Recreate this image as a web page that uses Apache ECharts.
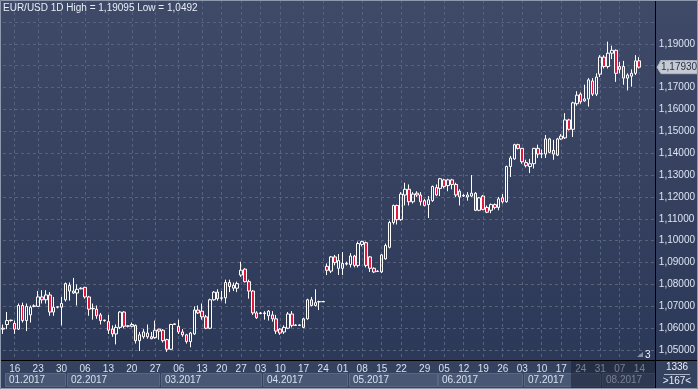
<!DOCTYPE html>
<html><head><meta charset="utf-8">
<script src="https://cdn.jsdelivr.net/npm/echarts@6/dist/echarts.min.js"></script>
<style>html,body{margin:0;padding:0;background:#33405d;}#c{width:698px;height:389px;}</style>
</head><body><div id="c"></div>
<script>
const titleText = 'EUR/USD 1D High = 1,19095 Low = 1,0492';
const open = [1.0596,1.0617,1.0635,1.0622,1.0596,1.0704,1.0635,1.0661,1.0700,1.0700,
1.0743,1.0730,1.0752,1.0674,1.0696,1.0696,1.0730,1.0796,1.0770,1.0761,
1.0780,1.0787,1.0743,1.0689,1.0687,1.0661,1.0635,1.0630,1.0596,1.0574,
1.0604,1.0674,1.0609,1.0609,1.0613,1.0543,1.0561,1.0561,1.0561,1.0557,
1.0596,1.0591,1.0548,1.0504,1.0617,1.0609,1.0583,1.0570,1.0539,1.0574,
1.0683,1.0678,1.0652,1.0600,1.0730,1.0765,1.0737,1.0739,1.0809,1.0783,
1.0783,1.0843,1.0870,1.0813,1.0770,1.0670,1.0667,1.0670,1.0657,1.0661,
1.0643,1.0596,1.0583,1.0600,1.0665,1.0613,1.0615,1.0604,1.0643,1.0730,
1.0704,1.0720,1.0722,1.0883,1.0861,1.0926,1.0874,1.0874,1.0893,1.0891,
1.0930,1.0887,1.0983,1.0991,1.0926,1.0874,1.0859,1.0857,1.0917,1.0970,
1.1083,1.1161,1.1096,1.1209,1.1235,1.1178,1.1217,1.1209,1.1183,1.1165,
1.1183,1.1243,1.1239,1.1278,1.1252,1.1278,1.1257,1.1226,1.1204,1.1200,
1.1204,1.1217,1.1139,1.1204,1.1152,1.1139,1.1165,1.1152,1.1196,1.1178,
1.1339,1.1374,1.1439,1.1422,1.1357,1.1339,1.1352,1.1422,1.1396,1.1396,
1.1465,1.1413,1.1391,1.1465,1.1470,1.1552,1.1509,1.1626,1.1670,1.1639,
1.1648,1.1730,1.1670,1.1761,1.1839,1.1796,1.1857,1.1870,1.1783,1.1796,
1.1743,1.1752,1.1765,1.1822];
const high = [1.0617,1.0674,1.0639,1.0635,1.0713,1.0717,1.0713,1.0704,1.0709,1.0770,
1.0774,1.0774,1.0765,1.0743,1.0700,1.0743,1.0809,1.0809,1.0830,1.0800,
1.0787,1.0789,1.0748,1.0713,1.0704,1.0670,1.0639,1.0661,1.0613,1.0617,
1.0678,1.0678,1.0613,1.0626,1.0617,1.0583,1.0596,1.0617,1.0583,1.0635,
1.0598,1.0596,1.0552,1.0620,1.0622,1.0639,1.0596,1.0574,1.0583,1.0700,
1.0704,1.0713,1.0661,1.0735,1.0770,1.0778,1.0770,1.0822,1.0822,1.0809,
1.0813,1.0904,1.0874,1.0822,1.0774,1.0678,1.0674,1.0678,1.0683,1.0678,
1.0661,1.0600,1.0613,1.0674,1.0678,1.0617,1.0617,1.0648,1.0735,1.0743,
1.0778,1.0726,1.0722,1.0896,1.0930,1.0935,1.0939,1.0948,1.0904,1.0943,
1.0935,1.0996,1.1000,1.0996,1.0930,1.0878,1.0865,1.0939,1.0987,1.1091,
1.1165,1.1165,1.1222,1.1265,1.1257,1.1222,1.1226,1.1222,1.1191,1.1204,
1.1252,1.1257,1.1287,1.1283,1.1283,1.1283,1.1265,1.1235,1.1213,1.1222,
1.1300,1.1222,1.1200,1.1209,1.1161,1.1170,1.1170,1.1200,1.1213,1.1343,
1.1387,1.1443,1.1443,1.1424,1.1370,1.1374,1.1424,1.1439,1.1417,1.1483,
1.1470,1.1461,1.1470,1.1487,1.1583,1.1557,1.1635,1.1683,1.1678,1.1713,
1.1743,1.1743,1.1765,1.1848,1.1848,1.19095,1.1891,1.1874,1.1817,1.1822,
1.1765,1.1783,1.1848,1.1839];
const low = [1.0574,1.0596,1.0630,1.0574,1.0592,1.0626,1.0587,1.0626,1.0696,1.0698,
1.0713,1.0713,1.0657,1.0657,1.0691,1.0613,1.0722,1.0726,1.0757,1.0704,
1.0778,1.0735,1.0657,1.0639,1.0643,1.0617,1.0630,1.0574,1.0561,1.0526,
1.0596,1.0600,1.0604,1.0604,1.0530,1.0496,1.0552,1.0552,1.0550,1.0552,
1.0548,1.0535,1.0492,1.0500,1.0615,1.0574,1.0561,1.0530,1.0513,1.0570,
1.0665,1.0639,1.0596,1.0596,1.0726,1.0726,1.0726,1.0713,1.0765,1.0770,
1.0765,1.0835,1.0809,1.0735,1.0661,1.0643,1.0665,1.0639,1.0635,1.0630,
1.0574,1.0570,1.0574,1.0596,1.0604,1.0611,1.0611,1.0600,1.0639,1.0700,
1.0700,1.0683,1.0720,1.0843,1.0852,1.0887,1.0843,1.0843,1.0887,1.0878,
1.0878,1.0878,1.0974,1.0878,1.0857,1.0852,1.0857,1.0852,1.0913,1.0965,
1.1074,1.1074,1.1091,1.1161,1.1161,1.1170,1.1200,1.1161,1.1157,1.1104,
1.1178,1.1204,1.1204,1.1239,1.1226,1.1235,1.1200,1.1161,1.1200,1.1183,
1.1200,1.1135,1.1135,1.1139,1.1126,1.1126,1.1143,1.1139,1.1170,1.1174,
1.1291,1.1370,1.1417,1.1352,1.1335,1.1309,1.1330,1.1378,1.1378,1.1378,
1.1400,1.1370,1.1387,1.1461,1.1465,1.1504,1.1474,1.1617,1.1626,1.1635,
1.1613,1.1661,1.1661,1.1748,1.1787,1.1787,1.1830,1.1726,1.1765,1.1713,
1.1687,1.1704,1.1757,1.1787];
const close = [1.0600,1.0635,1.0637,1.0596,1.0704,1.0635,1.0700,1.0696,1.0702,1.0743,
1.0730,1.0752,1.0674,1.0696,1.0698,1.0713,1.0804,1.0770,1.0761,1.0778,
1.0783,1.0743,1.0687,1.0691,1.0657,1.0635,1.0637,1.0591,1.0574,1.0604,
1.0674,1.0609,1.0611,1.0617,1.0543,1.0570,1.0583,1.0578,1.0552,1.0591,
1.0587,1.0543,1.0504,1.0617,1.0620,1.0583,1.0570,1.0539,1.0578,1.0683,
1.0670,1.0652,1.0600,1.0730,1.0765,1.0735,1.0739,1.0809,1.0791,1.0796,
1.0804,1.0865,1.0813,1.0770,1.0670,1.0648,1.0670,1.0667,1.0678,1.0643,
1.0587,1.0578,1.0604,1.0665,1.0613,1.0615,1.0613,1.0643,1.0730,1.0704,
1.0717,1.0722,1.0721,1.0865,1.0926,1.0900,1.0909,1.0896,1.0896,1.0930,
1.0887,1.0987,1.0996,1.0887,1.0874,1.0857,1.0861,1.0935,1.0978,1.1083,
1.1161,1.1096,1.1213,1.1235,1.1178,1.1213,1.1209,1.1178,1.1161,1.1187,
1.1248,1.1209,1.1283,1.1248,1.1278,1.1257,1.1209,1.1200,1.1207,1.1209,
1.1217,1.1139,1.1196,1.1143,1.1130,1.1165,1.1152,1.1191,1.1178,1.1339,
1.1378,1.1439,1.1422,1.1361,1.1343,1.1352,1.1422,1.1396,1.1398,1.1465,
1.1404,1.1396,1.1465,1.1478,1.1552,1.1509,1.1630,1.1665,1.1635,1.1648,
1.1735,1.1670,1.1748,1.1839,1.1796,1.1857,1.1870,1.1765,1.1796,1.1743,
1.1757,1.1765,1.1822,1.1793];
const weekIdx = [3,9,15,21,27,33,39,45,51,56,61,66,71,77,82,87,92,97,102,108,113,118,123,128,133,138,143,148,153,158,163];
const weekLabels = ['16','23','30','06','13','20','27','06','13','20','27','03','10','17','24','01','08','15','22','29','05','12','19','26','03','10','17','24','31','07','14'];
const monthStartIdx = [1,17,41,67,89,112,134,154];
const monthLabels = ['01.2017','02.2017','03.2017','04.2017','05.2017','06.2017','07.2017','08.2017'];
const emptySlots = 4;
const lastPrice = 1.1793;
const yMin = 1.04, yMax = 1.21, yStep = 0.01;
const shownMin = 1.05, shownMax = 1.19;
const cornerTop = '1336', cornerBottom = '>167<', badge = '3';

const FONT = '"Liberation Sans",Arial,sans-serif';
const FS = 10;
const nCat = open.length + emptySlots;
const weekSet = new Set(weekIdx);
const cats = [];
for (let i = 0; i < nCat; i++) {
  const k = weekIdx.indexOf(i);
  cats.push(k >= 0 ? weekLabels[k] : '');
}
const candles = [];
for (let i = 0; i < nCat; i++) {
  candles.push(i < open.length ? [open[i], close[i], low[i], high[i]] : '-');
}
const fmt = v => v.toFixed(5).replace('.', ',');

const chart = echarts.init(document.getElementById('c'), null, {renderer: 'canvas'});
const option = {
  animation: false,
  backgroundColor: new echarts.graphic.LinearGradient(0, 0, 0, 1, [
    {offset: 0, color: '#3e4a67'}, {offset: 1, color: '#2b3756'}]),
  title: {text: titleText, left: 3, top: 3, padding: 0,
    textStyle: {fontSize: FS, fontWeight: 'normal', color: '#e8eef8', fontFamily: FONT}},
  grid: [
    {left: 3, right: 43, top: -19, bottom: 17},
    {left: 3, right: 43, top: 340, height: 20}
  ],
  xAxis: [
    {type: 'category', gridIndex: 0, data: cats, boundaryGap: false,
      axisLine: {show: false}, axisTick: {show: false}, axisLabel: {show: false},
      splitLine: {show: true, interval: (i) => weekSet.has(i),
        lineStyle: {color: '#56637f', width: 1, type: [3, 3]}}},
    {type: 'category', gridIndex: 1, data: cats, boundaryGap: false, z: 10,
      axisLine: {show: false}, axisTick: {show: false}, splitLine: {show: false},
      axisLabel: {show: true, interval: 0, margin: 4, color: '#d6e0f0', fontSize: FS, fontFamily: FONT}}
  ],
  yAxis: [
    {type: 'value', gridIndex: 0, position: 'right', min: yMin, max: yMax, interval: yStep,
      axisLine: {show: false}, axisTick: {show: false},
      axisLabel: {margin: 4, color: '#dce5f4', fontSize: FS, fontFamily: FONT,
        formatter: v => (v < shownMin - 1e-6 || v > shownMax + 1e-6) ? '' : fmt(v)},
      splitLine: {show: true, showMinLine: false, showMaxLine: false,
        lineStyle: {color: '#56637f', width: 1, type: [3, 3]}}},
    {type: 'value', gridIndex: 1, show: false}
  ],
  series: [{
    type: 'candlestick', xAxisIndex: 0, yAxisIndex: 0, data: candles, clip: false,
    barWidth: 3,
    itemStyle: {color: 'rgba(0,0,0,0)', color0: '#e3173d', borderColor: '#ffffff',
      borderColor0: '#ffffff', borderWidth: 1}
  }]
};
chart.setOption(option);

const px = i => chart.convertToPixel({xAxisIndex: 1}, i);
const bnd = i => (px(i) + px(i - 1)) / 2;
const plotRight = px(nCat - 1);
const TF = FS + 'px ' + FONT;
const g = [];
g.push({type: 'rect', z: 3, shape: {x: 0, y: 360, width: 698, height: 29}, style: {fill: '#35425f'}});
for (let k = 0; k < monthStartIdx.length; k++) {
  const x0 = bnd(monthStartIdx[k]);
  const x1 = k < monthStartIdx.length - 1 ? bnd(monthStartIdx[k + 1]) - 1 : plotRight;
  g.push({type: 'rect', z: 4, shape: {x: Math.round(x0) + 0.5, y: 373.5, width: Math.round(x1 - x0) - 1, height: 13},
    style: {fill: '#495774', stroke: '#596783', lineWidth: 1}});
  g.push({type: 'text', z: 5, x: Math.round(x0) + 4, y: 380.5,
    style: {text: monthLabels[k], fill: '#d6e0f0', font: TF, verticalAlign: 'middle', textVerticalAlign: 'middle'}});
}
const ov = bnd(146);
g.push({type: 'rect', z: 12, shape: {x: ov, y: 361, width: plotRight - ov, height: 27}, style: {fill: 'rgba(20,26,44,0.5)'}});
g.push({type: 'line', z: 13, shape: {x1: 0, y1: 360.5, x2: 698, y2: 360.5}, style: {stroke: '#000', lineWidth: 1}});
g.push({type: 'line', z: 13, shape: {x1: plotRight + 0.5, y1: 0, x2: plotRight + 0.5, y2: 389}, style: {stroke: '#000', lineWidth: 1}});
g.push({type: 'text', z: 13, x: 677, y: 367, style: {text: cornerTop, fill: '#e8eef8', font: TF, align: 'center', textAlign: 'center', verticalAlign: 'middle', textVerticalAlign: 'middle'}});
g.push({type: 'line', z: 13, shape: {x1: 664, y1: 374.5, x2: 690, y2: 374.5}, style: {stroke: '#aab4c6', lineWidth: 1}});
g.push({type: 'text', z: 13, x: 677, y: 381, style: {text: cornerBottom, fill: '#e8eef8', font: TF, align: 'center', textAlign: 'center', verticalAlign: 'middle', textVerticalAlign: 'middle'}});
g.push({type: 'polygon', z: 13, shape: {points: [[637, 357], [643, 357], [643, 352]]}, style: {fill: '#8792a8'}});
g.push({type: 'text', z: 13, x: 645, y: 355, style: {text: badge, fill: '#f0f4fa', font: TF, verticalAlign: 'middle', textVerticalAlign: 'middle'}});
const ty = chart.convertToPixel({yAxisIndex: 0}, lastPrice);
g.push({type: 'polygon', z: 20, shape: {points: [[plotRight + 2, ty], [plotRight + 6, ty - 6.5], [697, ty - 6.5], [697, ty + 6.5], [plotRight + 6, ty + 6.5]]},
  style: {fill: '#c6cad2', stroke: '#aeb4c0', lineWidth: 1}});
g.push({type: 'text', z: 21, x: plotRight + 6, y: ty, style: {text: fmt(lastPrice), fill: '#27324b', font: TF, verticalAlign: 'middle', textVerticalAlign: 'middle'}});
g.push({type: 'rect', z: 22, shape: {x: 0.5, y: 0.5, width: 697, height: 388}, style: {fill: 'none', stroke: '#8e99ae', lineWidth: 1}});
chart.setOption({graphic: g});
</script></body></html>
